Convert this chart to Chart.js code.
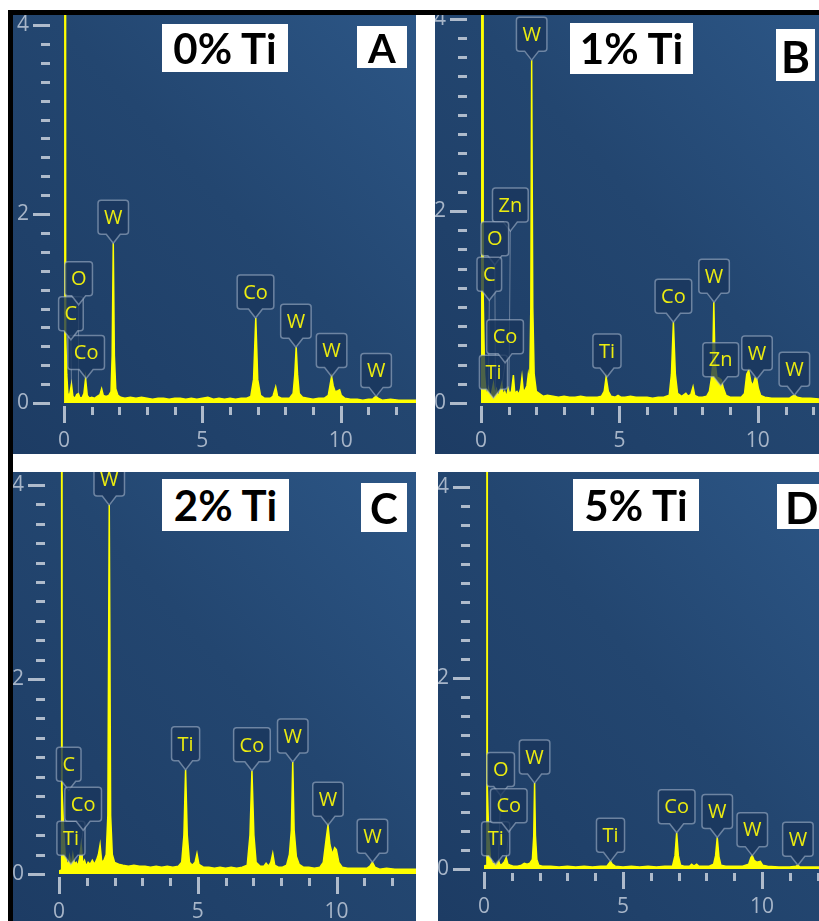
<!DOCTYPE html>
<html>
<head>
<meta charset="utf-8">
<script src="https://cdn.jsdelivr.net/npm/chart.js@4.4.1/dist/chart.umd.min.js"></script>
<style>
  body { margin: 0; width: 819px; height: 921px; background: #fff; position: relative; overflow: hidden; }
  .rule { position: absolute; background: #000; }
  .panel { position: absolute; overflow: hidden;
    background: linear-gradient(to bottom left, #2c5686 0%, #234670 45%, #1d3c64 100%); }
  .panel canvas { position: absolute; left: 0; top: 0; }
  .tag { position: absolute; background: #fff; color: #000; font-family: Lato, "Open Sans", sans-serif;
    font-weight: bold; text-align: center; white-space: nowrap; }
</style>
</head>
<body>
<div class="rule" style="left:8px;top:10px;width:811px;height:5px"></div>
<div class="rule" style="left:8px;top:10px;width:5px;height:911px"></div>

<div class="panel" id="pA" style="left:13px;top:15px;width:403px;height:439px"><canvas id="chartA" width="403" height="439"></canvas></div>
<div class="panel" id="pB" style="left:435px;top:15px;width:384px;height:439px"><canvas id="chartB" width="384" height="439"></canvas></div>
<div class="panel" id="pC" style="left:13px;top:472px;width:403px;height:449px"><canvas id="chartC" width="403" height="449"></canvas></div>
<div class="panel" id="pD" style="left:438px;top:472px;width:381px;height:449px"><canvas id="chartD" width="381" height="449"></canvas></div>

<div class="tag" style="left:162px;top:24px;width:126px;height:48px;line-height:48px;font-size:42px">0% Ti</div>
<div class="tag" style="left:357px;top:26px;width:50px;height:42px;line-height:44px;font-size:40px">A</div>
<div class="tag" style="left:570px;top:23px;width:123px;height:51px;line-height:51px;font-size:42px">1% Ti</div>
<div class="tag" style="left:776px;top:29px;width:39px;height:52px;line-height:54px;font-size:44px">B</div>
<div class="tag" style="left:162px;top:479px;width:127px;height:52px;line-height:52px;font-size:42px">2% Ti</div>
<div class="tag" style="left:361px;top:483px;width:46px;height:49px;line-height:51px;font-size:42px">C</div>
<div class="tag" style="left:573px;top:479px;width:126px;height:52px;line-height:52px;font-size:42px">5% Ti</div>
<div class="tag" style="left:777px;top:484px;width:50px;height:45px;line-height:47px;font-size:44px;text-align:left;padding-left:8px">D</div>

<script>
// EDS spectra, [energy keV, counts]
const spectrumA = [
  [0, 0], [0.03, 40], [0.06, 0.72], [0.1, 0.3], [0.14, 0.1], [0.2, 0.08], [0.27, 0.2], [0.32, 0.07],
  [0.4, 0.05], [0.46, 0.09], [0.52, 0.1], [0.58, 0.05], [0.66, 0.06], [0.72, 0.1], [0.78, 0.26], [0.84, 0.08],
  [0.92, 0.05], [1.0, 0.06], [1.1, 0.05], [1.2, 0.07], [1.3, 0.09], [1.36, 0.15], [1.42, 0.08], [1.52, 0.07],
  [1.62, 0.08], [1.7, 0.12], [1.74, 0.5], [1.78, 1.69], [1.82, 0.5], [1.87, 0.15], [1.95, 0.08], [2.05, 0.06],
  [2.2, 0.05], [2.4, 0.06], [2.6, 0.05], [2.8, 0.06], [3.0, 0.05], [3.2, 0.04], [3.4, 0.05], [3.6, 0.05],
  [3.8, 0.04], [4.0, 0.05], [4.2, 0.05], [4.4, 0.04], [4.6, 0.05], [4.8, 0.04], [5.0, 0.05], [5.2, 0.06],
  [5.4, 0.04], [5.6, 0.05], [5.8, 0.04], [6.0, 0.05], [6.2, 0.04], [6.4, 0.05], [6.6, 0.05], [6.75, 0.07],
  [6.85, 0.25], [6.93, 0.9], [7.0, 0.25], [7.1, 0.08], [7.25, 0.05], [7.45, 0.05], [7.55, 0.07], [7.65, 0.17],
  [7.72, 0.07], [7.85, 0.05], [8.0, 0.05], [8.15, 0.05], [8.28, 0.1], [8.34, 0.3], [8.39, 0.59], [8.44, 0.3],
  [8.5, 0.1], [8.62, 0.06], [8.8, 0.05], [9.0, 0.04], [9.2, 0.05], [9.4, 0.05], [9.55, 0.08], [9.62, 0.2],
  [9.67, 0.28], [9.73, 0.18], [9.8, 0.12], [9.9, 0.13], [9.96, 0.14], [10.02, 0.08], [10.15, 0.05], [10.35, 0.04],
  [10.6, 0.04], [10.8, 0.03], [11.0, 0.04], [11.15, 0.04], [11.22, 0.06], [11.28, 0.07], [11.35, 0.05], [11.5, 0.03],
  [11.8, 0.04], [12.1, 0.03], [12.4, 0.03], [12.8, 0.03]
];

const spectrumB = [
  [0, 0], [0.04, 40], [0.08, 1.1], [0.13, 0.3], [0.18, 0.12], [0.22, 0.08], [0.27, 0.15], [0.32, 0.06],
  [0.38, 0.1], [0.45, 0.2], [0.5, 0.08], [0.56, 0.14], [0.62, 0.06], [0.68, 0.12], [0.75, 0.2], [0.8, 0.08],
  [0.86, 0.12], [0.92, 0.06], [0.98, 0.15], [1.03, 0.1], [1.1, 0.12], [1.17, 0.29], [1.22, 0.1], [1.3, 0.12],
  [1.37, 0.09], [1.43, 0.15], [1.48, 0.27], [1.53, 0.12], [1.6, 0.14], [1.66, 0.18], [1.71, 0.3], [1.76, 0.2],
  [1.8, 1.0], [1.83, 3.57], [1.87, 1.0], [1.92, 0.3], [2.0, 0.12], [2.1, 0.1], [2.25, 0.07], [2.4, 0.08],
  [2.6, 0.07], [2.8, 0.06], [3.0, 0.07], [3.2, 0.06], [3.4, 0.06], [3.6, 0.07], [3.8, 0.06], [4.0, 0.06],
  [4.2, 0.06], [4.35, 0.07], [4.45, 0.12], [4.52, 0.27], [4.6, 0.12], [4.7, 0.07], [4.85, 0.06], [4.95, 0.08],
  [5.05, 0.06], [5.2, 0.06], [5.4, 0.07], [5.6, 0.06], [5.8, 0.06], [6.0, 0.06], [6.2, 0.05], [6.4, 0.06],
  [6.6, 0.06], [6.8, 0.08], [6.88, 0.3], [6.95, 0.84], [7.02, 0.3], [7.1, 0.1], [7.25, 0.07], [7.4, 0.1],
  [7.48, 0.07], [7.58, 0.09], [7.66, 0.17], [7.72, 0.08], [7.85, 0.06], [8.0, 0.06], [8.15, 0.07], [8.25, 0.12],
  [8.32, 0.25], [8.37, 0.4], [8.41, 1.05], [8.45, 0.45], [8.52, 0.27], [8.6, 0.26], [8.68, 0.24], [8.76, 0.15],
  [8.85, 0.08], [9.0, 0.06], [9.2, 0.06], [9.4, 0.06], [9.52, 0.1], [9.6, 0.3], [9.67, 0.34], [9.75, 0.22],
  [9.82, 0.18], [9.9, 0.26], [9.96, 0.25], [10.02, 0.15], [10.1, 0.08], [10.25, 0.06], [10.5, 0.05], [10.8, 0.05],
  [11.0, 0.05], [11.15, 0.05], [11.25, 0.07], [11.33, 0.08], [11.42, 0.06], [11.6, 0.05], [11.9, 0.05], [12.3, 0.04]
];

const spectrumC = [
  [0, 0.03], [0.08, 0.04], [0.095, 40], [0.11, 0.86], [0.16, 0.5], [0.22, 0.2], [0.28, 0.12], [0.33, 0.1], [0.38, 0.18],
  [0.44, 0.08], [0.5, 0.2], [0.56, 0.1], [0.62, 0.12], [0.68, 0.08], [0.74, 0.16], [0.8, 0.3], [0.86, 0.1],
  [0.92, 0.14], [0.98, 0.08], [1.05, 0.12], [1.12, 0.1], [1.2, 0.14], [1.28, 0.1], [1.36, 0.15], [1.42, 0.2],
  [1.48, 0.3], [1.54, 0.12], [1.62, 0.14], [1.7, 0.2], [1.76, 0.6], [1.81, 3.79], [1.86, 0.6], [1.92, 0.2],
  [2.0, 0.12], [2.15, 0.1], [2.3, 0.09], [2.5, 0.08], [2.7, 0.09], [2.9, 0.08], [3.1, 0.08], [3.3, 0.07],
  [3.5, 0.08], [3.7, 0.07], [3.9, 0.08], [4.1, 0.07], [4.3, 0.08], [4.42, 0.12], [4.5, 0.4], [4.56, 1.07],
  [4.62, 0.4], [4.7, 0.12], [4.8, 0.09], [4.9, 0.12], [4.97, 0.21], [5.04, 0.1], [5.2, 0.07], [5.4, 0.07],
  [5.6, 0.06], [5.8, 0.07], [6.0, 0.06], [6.2, 0.07], [6.4, 0.06], [6.6, 0.07], [6.78, 0.09], [6.88, 0.4],
  [6.95, 1.06], [7.02, 0.4], [7.1, 0.12], [7.25, 0.08], [7.38, 0.08], [7.46, 0.11], [7.55, 0.08], [7.63, 0.12],
  [7.7, 0.21], [7.77, 0.09], [7.9, 0.07], [8.05, 0.07], [8.2, 0.09], [8.3, 0.2], [8.37, 0.45], [8.42, 1.15],
  [8.47, 0.45], [8.55, 0.18], [8.65, 0.1], [8.8, 0.07], [9.0, 0.07], [9.2, 0.06], [9.4, 0.07], [9.52, 0.12],
  [9.62, 0.35], [9.69, 0.5], [9.76, 0.3], [9.85, 0.2], [9.93, 0.27], [9.99, 0.25], [10.08, 0.12], [10.2, 0.07],
  [10.4, 0.06], [10.7, 0.06], [10.9, 0.06], [11.1, 0.06], [11.2, 0.08], [11.29, 0.12], [11.38, 0.07], [11.55, 0.05],
  [11.8, 0.06], [12.1, 0.05], [12.4, 0.05], [12.9, 0.05]
];

const spectrumD = [
  [0, 0.03], [0.09, 0.04], [0.105, 40], [0.12, 0.85], [0.17, 0.35], [0.23, 0.12], [0.3, 0.06], [0.38, 0.05], [0.45, 0.07],
  [0.52, 0.09], [0.58, 0.04], [0.66, 0.05], [0.74, 0.08], [0.8, 0.12], [0.86, 0.05], [0.95, 0.04], [1.05, 0.03],
  [1.2, 0.03], [1.35, 0.04], [1.45, 0.06], [1.55, 0.05], [1.65, 0.06], [1.74, 0.1], [1.79, 0.35], [1.82, 0.9],
  [1.85, 0.35], [1.9, 0.1], [1.97, 0.04], [2.1, 0.03], [2.4, 0.03], [2.7, 0.02], [3.0, 0.03], [3.3, 0.02],
  [3.6, 0.03], [3.9, 0.02], [4.2, 0.03], [4.42, 0.03], [4.5, 0.06], [4.55, 0.08], [4.61, 0.05], [4.72, 0.03],
  [5.0, 0.02], [5.3, 0.03], [5.6, 0.02], [5.9, 0.03], [6.2, 0.02], [6.5, 0.03], [6.78, 0.03], [6.87, 0.14],
  [6.93, 0.38], [6.99, 0.14], [7.07, 0.04], [7.2, 0.03], [7.4, 0.03], [7.47, 0.05], [7.55, 0.03], [7.65, 0.05],
  [7.72, 0.03], [7.9, 0.03], [8.1, 0.03], [8.26, 0.05], [8.33, 0.14], [8.39, 0.33], [8.45, 0.13], [8.52, 0.04],
  [8.7, 0.03], [9.0, 0.03], [9.3, 0.03], [9.52, 0.05], [9.6, 0.12], [9.65, 0.14], [9.72, 0.09], [9.82, 0.07],
  [9.94, 0.08], [10.02, 0.04], [10.2, 0.03], [10.6, 0.02], [11.0, 0.02], [11.22, 0.03], [11.29, 0.04], [11.36, 0.02],
  [11.7, 0.02], [12.2, 0.02]
];

// peak callouts: element, energy and height the pointer marks, optional peak a leader runs to
const calloutsA = [
  { el: 'Co', kev: 0.80, top: 0.26 },
  { el: 'C', kev: 0.25, top: 0.67, to: [0.27, 0.2] },
  { el: 'O', kev: 0.53, top: 1.04, to: [0.52, 0.1] },
  { el: 'W', kev: 1.78, top: 1.69 },
  { el: 'Co', kev: 6.92, top: 0.9 },
  { el: 'W', kev: 8.38, top: 0.59 },
  { el: 'W', kev: 9.67, top: 0.28 },
  { el: 'W', kev: 11.28, top: 0.07 }
];

const calloutsB = [
  { el: 'Zn', kev: 1.06, top: 1.79, to: [1.01, 0.12] },
  { el: 'O', kev: 0.5, top: 1.44, to: [0.52, 0.1] },
  { el: 'C', kev: 0.3, top: 1.07, to: [0.27, 0.15] },
  { el: 'Ti', kev: 0.45, top: 0.05 },
  { el: 'Co', kev: 0.87, top: 0.42, to: [0.77, 0.2] },
  { el: 'W', kev: 1.83, top: 3.57 },
  { el: 'Ti', kev: 4.55, top: 0.27 },
  { el: 'Co', kev: 6.95, top: 0.84 },
  { el: 'W', kev: 8.42, top: 1.05 },
  { el: 'Zn', kev: 8.66, top: 0.18 },
  { el: 'W', kev: 9.97, top: 0.25 },
  { el: 'W', kev: 11.32, top: 0.08 }
];

const calloutsC = [
  { el: 'C', kev: 0.35, top: 0.86 },
  { el: 'Ti', kev: 0.43, top: 0.1 },
  { el: 'Co', kev: 0.87, top: 0.45, to: [0.8, 0.3] },
  { el: 'W', kev: 1.81, top: 3.79 },
  { el: 'Ti', kev: 4.56, top: 1.07 },
  { el: 'Co', kev: 6.95, top: 1.06 },
  { el: 'W', kev: 8.42, top: 1.15 },
  { el: 'W', kev: 9.69, top: 0.5 },
  { el: 'W', kev: 11.29, top: 0.12 }
];

const calloutsD = [
  { el: 'Ti', kev: 0.42, top: 0.045 },
  { el: 'O', kev: 0.6, top: 0.77, to: [0.52, 0.09] },
  { el: 'Co', kev: 0.89, top: 0.39, to: [0.8, 0.12] },
  { el: 'W', kev: 1.82, top: 0.9 },
  { el: 'Ti', kev: 4.55, top: 0.08 },
  { el: 'Co', kev: 6.93, top: 0.38 },
  { el: 'W', kev: 8.39, top: 0.33 },
  { el: 'W', kev: 9.65, top: 0.14 },
  { el: 'W', kev: 11.29, top: 0.04 }
];

const xTickLabels = [0, 5, 10];
const yTickLabels = [0, 2, 4];

Chart.defaults.font.family = '"Open Sans", sans-serif';

const panels = [
  { canvas: 'chartA', spectrum: spectrumA, callouts: calloutsA, xMax: 12.72, yMax: 4.106, axisLeft: 51, axisBottom: 51 },
  { canvas: 'chartB', spectrum: spectrumB, callouts: calloutsB, xMax: 12.21, yMax: 4.04, axisLeft: 46, axisBottom: 51 },
  { canvas: 'chartC', spectrum: spectrumC, callouts: calloutsC, xMax: 12.86, yMax: 4.13, axisLeft: 46, axisBottom: 47 },
  { canvas: 'chartD', spectrum: spectrumD, callouts: calloutsD, xMax: 12.05, yMax: 4.16, axisLeft: 46, axisBottom: 52 }
];

const tickColor = 'rgba(200, 208, 220, 0.85)';
const labelColor = '#a7b5c8';

// short bars beside the plot instead of gridlines
const tickMarks = {
  id: 'tickMarks',
  afterDraw(chart) {
    const { ctx, chartArea, scales: { x, y } } = chart;
    ctx.save();
    ctx.strokeStyle = tickColor;
    ctx.lineWidth = 3;
    for (let i = 0; i * 0.2 <= y.max + 1e-9; i++) {
      const py = Math.round(y.getPixelForValue(i * 0.2)) + 0.5;
      const len = i % 10 === 0 ? 17 : 9;
      ctx.beginPath();
      ctx.moveTo(chartArea.left - 14 - len, py);
      ctx.lineTo(chartArea.left - 14, py);
      ctx.stroke();
    }
    for (let k = 0; k <= x.max; k++) {
      const px = Math.round(x.getPixelForValue(k)) + 0.5;
      const major = k % 5 === 0;
      ctx.beginPath();
      ctx.moveTo(px, chartArea.bottom + (major ? 3 : 4));
      ctx.lineTo(px, chartArea.bottom + (major ? 20 : 12));
      ctx.stroke();
    }
    ctx.restore();
  }
};

function calloutPath(ctx, x, y, w, h, pin) {
  const left = x - w / 2, bottom = y - pin, top = bottom - h, r = 3;
  ctx.beginPath();
  ctx.moveTo(left + r, top);
  ctx.lineTo(left + w - r, top);
  ctx.arcTo(left + w, top, left + w, top + r, r);
  ctx.lineTo(left + w, bottom - r);
  ctx.arcTo(left + w, bottom, left + w - r, bottom, r);
  ctx.lineTo(x + 7, bottom);
  ctx.lineTo(x, y);
  ctx.lineTo(x - 7, bottom);
  ctx.lineTo(left + r, bottom);
  ctx.arcTo(left, bottom, left, bottom - r, r);
  ctx.lineTo(left, top + r);
  ctx.arcTo(left, top, left + r, top, r);
  ctx.closePath();
  return top;
}

// element tags with a pointer on the peak
const peakCallouts = {
  id: 'peakCallouts',
  afterDatasetsDraw(chart, args, opts) {
    const { ctx, scales: { x, y } } = chart;
    const list = opts.items || [];
    ctx.save();
    ctx.strokeStyle = 'rgba(190, 200, 215, 0.45)';
    ctx.lineWidth = 1;
    list.forEach(c => {
      if (!c.to) return;
      ctx.beginPath();
      ctx.moveTo(x.getPixelForValue(c.kev), y.getPixelForValue(c.top));
      ctx.lineTo(x.getPixelForValue(c.to[0]), y.getPixelForValue(c.to[1]));
      ctx.stroke();
    });
    ctx.font = '20px "Open Sans"';
    ctx.textAlign = 'center';
    ctx.textBaseline = 'middle';
    list.forEach(c => {
      const px = x.getPixelForValue(c.kev);
      const py = y.getPixelForValue(c.top);
      const w = ctx.measureText(c.el).width + 12;
      const h = 34;
      const top = calloutPath(ctx, px, py, w, h, 9);
      ctx.fillStyle = 'rgba(26, 54, 92, 0.78)';
      ctx.fill();
      ctx.strokeStyle = 'rgba(175, 190, 210, 0.55)';
      ctx.lineWidth = 1.5;
      ctx.stroke();
      ctx.fillStyle = '#ecec10';
      ctx.fillText(c.el, px, top + h / 2 + 1);
    });
    ctx.restore();
  }
};

panels.forEach(p => {
  const ctx = document.getElementById(p.canvas).getContext('2d');
  new Chart(ctx, {
    type: 'line',
    data: {
      datasets: [{
        data: p.spectrum.map(pt => ({ x: pt[0], y: pt[1] })),
        borderColor: '#ffff00',
        backgroundColor: '#ffff00',
        borderWidth: 1.5,
        pointRadius: 0,
        tension: 0,
        fill: 'origin'
      }]
    },
    options: {
      responsive: false,
      animation: false,
      devicePixelRatio: 1,
      layout: { padding: 0 },
      plugins: {
        legend: { display: false },
        tooltip: { enabled: false },
        peakCallouts: { items: p.callouts }
      },
      scales: {
        x: {
          type: 'linear',
          min: 0,
          max: p.xMax,
          grid: { display: false, drawTicks: false },
          border: { display: false },
          ticks: {
            stepSize: 5,
            includeBounds: false,
            autoSkip: false,
            maxRotation: 0,
            padding: 25,
            color: labelColor,
            font: { size: 21 },
            callback: v => xTickLabels.includes(v) ? String(v) : ''
          },
          afterFit: s => { s.height = p.axisBottom; s.paddingLeft = 0; s.paddingRight = 0; }
        },
        y: {
          min: 0,
          max: p.yMax,
          grid: { display: false, drawTicks: false },
          border: { display: false },
          ticks: {
            stepSize: 2,
            includeBounds: false,
            autoSkip: false,
            padding: 35,
            color: labelColor,
            font: { size: 21 },
            callback: v => yTickLabels.includes(v) ? String(v) : ''
          },
          afterFit: s => { s.width = p.axisLeft; s.paddingTop = 0; s.paddingBottom = 0; }
        }
      }
    },
    plugins: [tickMarks, peakCallouts]
  });
});
</script>
</body>
</html>
